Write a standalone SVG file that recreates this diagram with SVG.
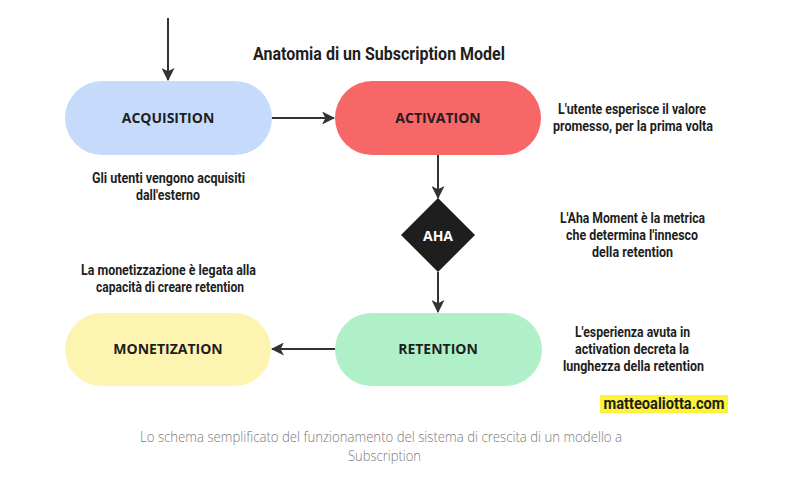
<svg xmlns="http://www.w3.org/2000/svg" width="785" height="480" viewBox="0 0 785 480">
<defs>
<style>
.node-label{font-family:"Open Sans","Liberation Sans",sans-serif;font-weight:700;font-size:14px;fill:#1e1e1e;text-anchor:middle}
.note{font-family:Roboto,"Liberation Sans",sans-serif;font-weight:700;font-size:15px;fill:#1e1e1e;text-anchor:middle}
.conn{stroke:#333333;stroke-width:2;fill:none}
.caption{font-family:"Open Sans","Liberation Sans",sans-serif;font-weight:300;font-size:14.5px;fill:#7a7a7a;text-anchor:middle}
</style>
<marker id="arr" viewBox="0 0 12 12" refX="11" refY="6" markerWidth="13" markerHeight="13" markerUnits="userSpaceOnUse" orient="auto">
<path d="M0,0 L12,6 L0,12 L3,6 z" fill="#333333"/>
</marker>
</defs>
<rect width="785" height="480" fill="#ffffff"/>
<text x="379" y="60" class="note" style="font-size:19px" textLength="252" lengthAdjust="spacingAndGlyphs">Anatomia di un Subscription Model</text>

<g id="connectors">
<line class="conn" x1="168" y1="18" x2="168" y2="80" marker-end="url(#arr)"/>
<line class="conn" x1="272" y1="118" x2="334" y2="118" marker-end="url(#arr)"/>
<line class="conn" x1="438" y1="155" x2="438" y2="198" marker-end="url(#arr)"/>
<line class="conn" x1="438" y1="272" x2="438" y2="312" marker-end="url(#arr)"/>
<line class="conn" x1="335" y1="349" x2="272" y2="349" marker-end="url(#arr)"/>
</g>

<g id="acquisition">
<rect x="65" y="81" width="207" height="74" rx="37" fill="#c6dbfb"/>
<text x="168" y="123" class="node-label">ACQUISITION</text>
</g>
<g id="activation">
<rect x="335" y="81" width="206" height="74" rx="37" fill="#f76767"/>
<text x="438" y="123" class="node-label">ACTIVATION</text>
</g>
<g id="aha">
<polygon points="438,198 475,235 438,272 401,235" fill="#1e1e1e"/>
<text x="438" y="241" class="node-label" style="fill:#ffffff">AHA</text>
</g>
<g id="retention">
<rect x="335" y="313" width="207" height="73" rx="36.5" fill="#b0f0c9"/>
<text x="438" y="354" class="node-label">RETENTION</text>
</g>
<g id="monetization">
<rect x="65" y="313" width="206" height="73" rx="36.5" fill="#fdf4b2"/>
<text x="168" y="354" class="node-label">MONETIZATION</text>
</g>

<g id="notes">
<text x="168.5" y="183" class="note" textLength="153" lengthAdjust="spacingAndGlyphs">Gli utenti vengono acquisiti</text>
<text x="168" y="200" class="note" textLength="64" lengthAdjust="spacingAndGlyphs">dall'esterno</text>

<text x="632" y="114" class="note" textLength="148" lengthAdjust="spacingAndGlyphs">L'utente esperisce il valore</text>
<text x="633" y="131" class="note" textLength="160" lengthAdjust="spacingAndGlyphs">promesso, per la prima volta</text>

<text x="632.5" y="223" class="note" textLength="145" lengthAdjust="spacingAndGlyphs">L'Aha Moment è la metrica</text>
<text x="632" y="240" class="note" textLength="132" lengthAdjust="spacingAndGlyphs">che determina l'innesco</text>
<text x="632.5" y="257" class="note" textLength="81" lengthAdjust="spacingAndGlyphs">della retention</text>

<text x="168.5" y="275" class="note" textLength="175" lengthAdjust="spacingAndGlyphs">La monetizzazione è legata alla</text>
<text x="170" y="292" class="note" textLength="148" lengthAdjust="spacingAndGlyphs">capacità di creare retention</text>

<text x="632.5" y="337" class="note" textLength="115" lengthAdjust="spacingAndGlyphs">L'esperienza avuta in</text>
<text x="632" y="354" class="note" textLength="114" lengthAdjust="spacingAndGlyphs">activation decreta la</text>
<text x="633.5" y="371" class="note" textLength="141" lengthAdjust="spacingAndGlyphs">lunghezza della retention</text>
</g>

<g id="watermark">
<rect x="600" y="395" width="128" height="18" fill="#fcf33a"/>
<text x="664" y="409" class="note" style="font-size:16px" textLength="121" lengthAdjust="spacingAndGlyphs">matteoaliotta.com</text>
</g>

<text x="381" y="442" class="caption" textLength="482" lengthAdjust="spacingAndGlyphs">Lo schema semplificato del funzionamento del sistema di crescita di un modello a</text>
<text x="384.5" y="461" class="caption" textLength="73" lengthAdjust="spacingAndGlyphs">Subscription</text>
</svg>
